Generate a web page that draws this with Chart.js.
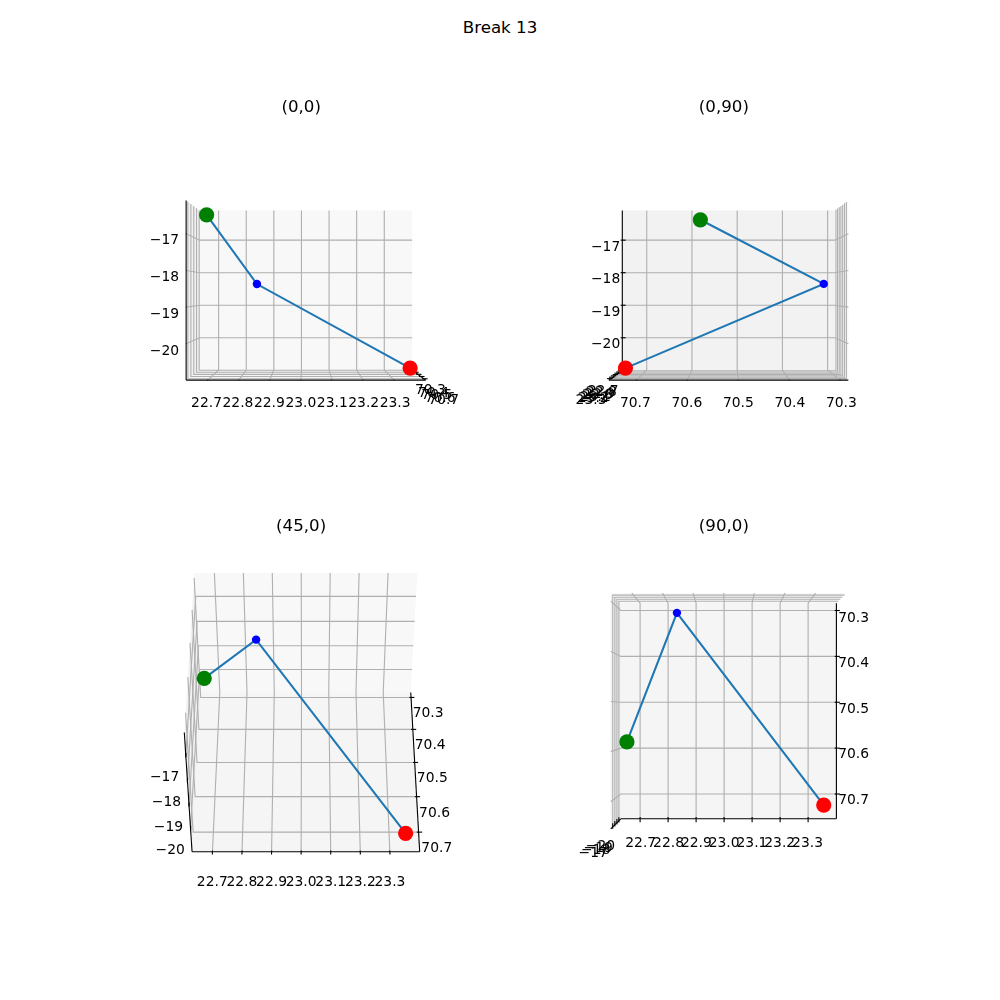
<!DOCTYPE html>
<html>
<head>
<meta charset="utf-8">
<script src="https://cdn.jsdelivr.net/npm/chart.js@4"></script>
<style>
html,body{margin:0;padding:0;background:#fff;}
#page{position:relative;width:1000px;height:1000px;overflow:hidden;background:#fff;}
canvas{position:absolute;}
#sup{position:absolute;left:0;width:1000px;top:18px;text-align:center;font:16.67px/20px "DejaVu Sans";color:#000;}
</style>
</head>
<body>
<div id="page"><div id="sup"></div></div>
<script>
const figureTitle = "Break 13";
const panelTitles = ["(0,0)", "(0,90)", "(45,0)", "(90,0)"];
const panelElev = [0, 0, 45, 90];
const panelAzim = [0, 90, 0, 0];

// Three recorded positions
const xValues = [70.581, 70.315, 70.723];
const yValues = [22.682, 22.840, 23.354];
const zValues = [-16.39, -18.35, -20.68];
const pointColors = ["#008000", "#0000ff", "#ff0000"];
const pointSizes = [7.6, 4.2, 7.6];

const xLimits = [70.284, 70.754];
const yLimits = [22.631, 23.401];
const zLimits = [-20.99, -16.09];
const xTicks = [70.3, 70.4, 70.5, 70.6, 70.7];
const yTicks = [22.7, 22.8, 22.9, 23.0, 23.1, 23.2, 23.3];
const zTicks = [-17, -18, -19, -20];
const xTickLabels = ["70.3", "70.4", "70.5", "70.6", "70.7"];
const yTickLabels = ["22.7", "22.8", "22.9", "23.0", "23.1", "23.2", "23.3"];
const zTickLabels = ["\u221217", "\u221218", "\u221219", "\u221220"];

// Outward sign of the tick marks, per panel: [x axis, y axis, z axis]
const tickSigns = [[-1, -1, 1], [-1, -1, 1], [-1, -1, 1], [-1, -1, 1]];

const BOX = [1.1905, 1.1905, 0.8929];
const DIST = 10;
const LIMITS = [xLimits, yLimits, zLimits];
const TICKS = [xTicks, yTicks, zTicks];
const LABELS = [xTickLabels, yTickLabels, zTickLabels];
const PROJ_MIN = -0.095, PROJ_MAX = 0.09;
const FONT = '13.89px "DejaVu Sans"';
const PANES = ["rgba(242,242,242,0.5)", "rgba(230,230,230,0.5)", "rgba(236,236,236,0.5)"];
const LABEL_SHIFT = 0.084;

function toBox(i, v) {
  const l = LIMITS[i];
  return (v - (l[0] + l[1]) / 2) / (l[1] - l[0]) * BOX[i];
}
function cross(a, b) {
  return [a[1]*b[2]-a[2]*b[1], a[2]*b[0]-a[0]*b[2], a[0]*b[1]-a[1]*b[0]];
}
function dot(a, b) { return a[0]*b[0]+a[1]*b[1]+a[2]*b[2]; }
function makeCamera(elev, azim) {
  const e = elev*Math.PI/180, a = azim*Math.PI/180;
  const w = [Math.cos(e)*Math.cos(a), Math.cos(e)*Math.sin(a), Math.sin(e)];
  let u = cross([0,0,1], w);
  const n = Math.sqrt(dot(u,u));
  u = u.map(c => c/n);
  const v = cross(w, u);
  return {u, v, w};
}
// box coordinates (centred) -> projected plane
function project(cam, p) {
  const d = dot(cam.w, p) - DIST;
  return {x: dot(cam.u, p) / -d, y: dot(cam.v, p) / -d};
}

function axesPlugin(index, cam) {
  return {
    id: "axes3d" + index,
    beforeDatasetsDraw(chart) {
      const c = chart.ctx, sx = chart.scales.x, sy = chart.scales.y;
      const px = p => { const q = project(cam, p); return [sx.getPixelForValue(q.x), sy.getPixelForValue(q.y)]; };
      const hb = BOX.map(b => b/2);
      const poly = (pts, close) => {
        c.beginPath();
        pts.forEach((p, k) => { const q = px(p); k ? c.lineTo(q[0], q[1]) : c.moveTo(q[0], q[1]); });
        if (close) c.closePath();
      };
      c.save();
      // panes, always on the low side of each axis
      for (let i = 0; i < 3; i++) {
        const j = (i+1)%3, k = (i+2)%3;
        const corner = (sj, sk) => { const p = [0,0,0]; p[i] = -hb[i]; p[j] = sj*hb[j]; p[k] = sk*hb[k]; return p; };
        poly([corner(-1,-1), corner(1,-1), corner(1,1), corner(-1,1)], true);
        c.fillStyle = PANES[i];
        c.fill();
      }
      // grid
      c.lineWidth = 1.11; c.strokeStyle = "#b0b0b0"; c.lineJoin = "miter";
      for (let i = 0; i < 3; i++) {
        const j = (i+1)%3, k = (i+2)%3;
        TICKS[i].forEach(t => {
          const a = [0,0,0], b = [0,0,0], d = [0,0,0];
          a[i] = b[i] = d[i] = toBox(i, t);
          a[j] = hb[j];  a[k] = -hb[k];
          b[j] = -hb[j]; b[k] = -hb[k];
          d[j] = -hb[j]; d[k] = hb[k];
          poly([a, b, d]); c.stroke();
        });
      }
      // axis lines, ticks, labels
      const edge = [[null, 1, -1], [1, null, -1], [1, -1, null]];
      const tickDir = [1, 0, 0];
      c.strokeStyle = "#000"; c.fillStyle = "#000"; c.font = FONT;
      c.textAlign = "center"; c.textBaseline = "alphabetic";
      for (let i = 0; i < 3; i++) {
        const base = edge[i].map((s, n) => s === null ? 0 : s*hb[n]);
        const p0 = base.slice(), p1 = base.slice();
        p0[i] = -hb[i]; p1[i] = hb[i];
        poly([p0, p1]); c.stroke();
        const dir = tickDir[i], delta = 0.08*BOX[dir], sgn = tickSigns[index][i];
        TICKS[i].forEach((t, n) => {
          const a = base.slice(), b = base.slice();
          a[i] = b[i] = toBox(i, t);
          a[dir] = base[dir] + 0.1*sgn*delta;
          b[dir] = base[dir] - 0.2*sgn*delta;
          poly([a, b]); c.stroke();
          const l = base.slice();
          l[i] = toBox(i, t);
          for (let m = 0; m < 3; m++) if (m !== i) l[m] = base[m] + Math.sign(base[m])*LABEL_SHIFT*BOX[m];
          const q = px(l);
          c.fillText(LABELS[i][n], q[0], q[1] + 10.6);
        });
      }
      c.restore();
    }
  };
}

document.getElementById("sup").textContent = figureTitle;
const page = document.getElementById("page");
const cellLeft = [126.14, 548.86, 126.14, 548.86];
const cellTop = [120, 120, 540, 540];
const topNudge = [0, 0, 0.7, 0.7];

panelTitles.forEach((title, idx) => {
  const cam = makeCamera(panelElev[idx], panelAzim[idx]);
  const pts = xValues.map((v, i) => project(cam, [toBox(0, v), toBox(1, yValues[i]), toBox(2, zValues[i])]));
  const cv = document.createElement("canvas");
  const left = Math.floor(cellLeft[idx]), frac = cellLeft[idx] - left;
  cv.width = 351; cv.height = 381;
  cv.style.left = left + "px"; cv.style.top = (cellTop[idx] - 30) + "px";
  cv.style.width = "351px"; cv.style.height = "381px";
  page.appendChild(cv);
  const markers = pts.map((q, i) => ({
    type: "scatter", data: [q], order: 1,
    pointRadius: pointSizes[i], pointHoverRadius: pointSizes[i],
    backgroundColor: pointColors[i], borderWidth: 0, showLine: false
  }));
  new Chart(cv.getContext("2d"), {
    type: "scatter",
    data: {datasets: [
      {data: pts, order: 2, showLine: true, borderColor: "#1f77b4", borderWidth: 2.08, pointRadius: 0, tension: 0, fill: false, clip: false},
      ...markers
    ]},
    options: {
      responsive: false, animation: false, devicePixelRatio: 1,
      layout: {autoPadding: false, padding: {left: frac, right: 1 - frac, top: 6, bottom: 1 - topNudge[idx]}},
      scales: {
        x: {type: "linear", min: PROJ_MIN, max: PROJ_MAX, display: false},
        y: {type: "linear", min: PROJ_MIN, max: PROJ_MAX, display: false}
      },
      plugins: {
        legend: {display: false}, tooltip: {enabled: false},
        title: {display: true, text: title, color: "#000",
          font: {family: "DejaVu Sans", size: 16.67, weight: "normal", lineHeight: "20px"},
          padding: {top: 2 - (idx > 1 ? 1 : 0), bottom: 2 + (idx > 1 ? 1 : 0) + topNudge[idx]}}
      }
    },
    plugins: [axesPlugin(idx, cam)]
  });
});
</script>
</body>
</html>
